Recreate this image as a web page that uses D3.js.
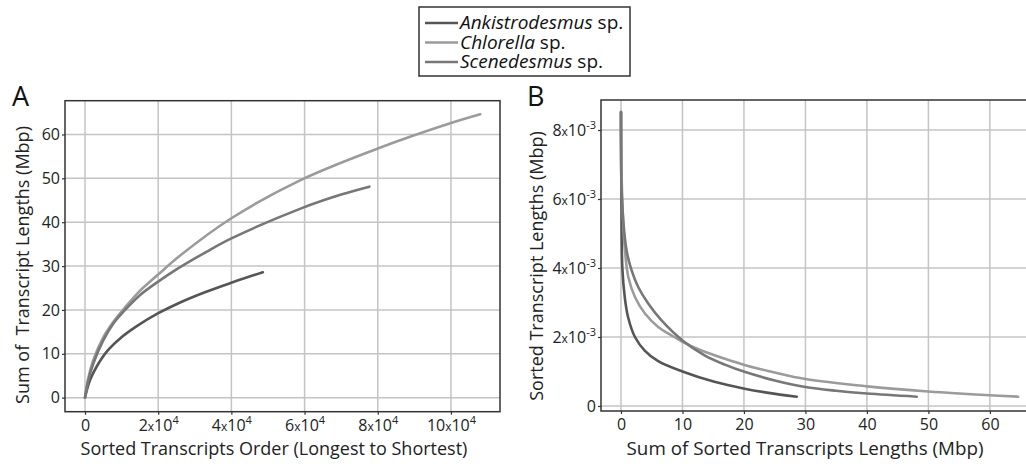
<!DOCTYPE html>
<html>
<head>
<meta charset="utf-8">
<script src="https://cdn.jsdelivr.net/npm/d3@7"></script>
<style>
  body { margin: 0; background: #fff; }
  svg { display: block; font-family: "Open Sans", sans-serif; }
</style>
</head>
<body>
<div id="chart"></div>
<script>
// species + colours
const species = ["Ankistrodesmus", "Chlorella", "Scenedesmus"];
const speciesColors = ["#555555", "#9b9b9b", "#777777"];

// Panel A: cumulative length (Mbp) vs transcript rank
const ankA_x = [0, 1370, 3200, 5940, 9590, 14150, 19900, 26000, 33300, 40000, 48600];
const ankA_y = [0, 4.0, 7.1, 10.5, 13.5, 16.3, 19.2, 21.7, 24.2, 26.2, 28.6];
const chlA_x = [0, 900, 2280, 5020, 7760, 10960, 15070, 19900, 26000, 40000, 58900, 80000, 100000, 108000];
const chlA_y = [0, 4.4, 8.6, 13.8, 17.3, 20.6, 24.4, 28.0, 32.4, 40.9, 49.6, 56.8, 62.6, 64.6];
const sceA_x = [0, 900, 2280, 5020, 7760, 10960, 15070, 19900, 25100, 33300, 40000, 58900, 70000, 77700];
const sceA_y = [0, 4.0, 7.8, 13.1, 16.9, 20.0, 23.4, 26.4, 29.3, 33.3, 36.3, 43.1, 46.3, 48.1];

// Panel B: transcript length (x10^-3 Mbp) vs cumulative length (Mbp)
const ankB_x = [0, 0.08, 0.22, 0.65, 1.19, 2.27, 3.9, 6.05, 10, 15.2, 20.1, 24, 28.6];
const ankB_y = [8.52, 6.0, 4.0, 3.1, 2.55, 2.0, 1.6, 1.3, 1.0, 0.7, 0.5, 0.38, 0.27];
const chlB_x = [0, 0.2, 0.65, 1.19, 2.27, 3.9, 6.05, 8.2, 10, 13.1, 16.9, 20.1, 25, 30, 40, 50, 60, 64.6];
const chlB_y = [8.52, 6.0, 4.5, 3.74, 3.16, 2.68, 2.29, 2.05, 1.86, 1.61, 1.37, 1.19, 0.97, 0.78, 0.57, 0.42, 0.31, 0.27];
const sceB_x = [0, 0.16, 0.92, 1.73, 2.8, 4.43, 6.6, 10, 13.6, 16.9, 20.1, 25, 30, 35, 40, 48.1];
const sceB_y = [8.52, 6.0, 4.5, 3.93, 3.45, 2.97, 2.48, 1.9, 1.47, 1.20, 0.99, 0.74, 0.55, 0.44, 0.36, 0.27];

// ticks
const ticksAx = [0, 20000, 40000, 60000, 80000, 100000];
const ticksAy = [0, 10, 20, 30, 40, 50, 60];
const ticksBx = [0, 10, 20, 30, 40, 50, 60];
const ticksBy = [0, 2e-3, 4e-3, 6e-3, 8e-3];

const width = 1026, height = 466;
const gridColor = "#c4c4c4", boxColor = "#333";

const svg = d3.select("#chart").append("svg")
    .attr("width", width)
    .attr("height", height);

const zip = (xs, ys, k) => xs.map((x, i) => ({x: x, y: ys[i] * (k || 1)}));
const seriesA = [zip(ankA_x, ankA_y), zip(chlA_x, chlA_y), zip(sceA_x, sceA_y)];
const seriesB = [zip(ankB_x, ankB_y, 1e-3), zip(chlB_x, chlB_y, 1e-3), zip(sceB_x, sceB_y, 1e-3)];

// writes "2x10^4" style labels with tspans
function sciLabel(sel, mant, exp) {
    sel.text(null);
    sel.append("tspan").text(mant);
    sel.append("tspan").attr("font-size", "12px").text("x");
    sel.append("tspan").text("10");
    sel.append("tspan").attr("font-size", "11px").attr("dy", "-7").text(exp);
}

function drawPanel(cfg) {
    const x = d3.scaleLinear().domain(cfg.xDomain).range([cfg.left, cfg.right]);
    const y = d3.scaleLinear().domain(cfg.yDomain).range([cfg.bottom, cfg.top]);
    const g = svg.append("g");

    // grid
    g.append("g").selectAll("line").data(cfg.xTicks).enter().append("line")
        .attr("x1", d => x(d)).attr("x2", d => x(d))
        .attr("y1", cfg.top).attr("y2", cfg.bottom)
        .attr("stroke", gridColor).attr("stroke-width", 1.5);
    g.append("g").selectAll("line").data(cfg.yTicks).enter().append("line")
        .attr("x1", cfg.left).attr("x2", cfg.right)
        .attr("y1", d => y(d)).attr("y2", d => y(d))
        .attr("stroke", gridColor).attr("stroke-width", 1.5);

    // curves
    const line = d3.line().x(d => x(d.x)).y(d => y(d.y)).curve(d3.curveCatmullRom.alpha(0.5));
    cfg.series.forEach((s, i) => {
        g.append("path").datum(s)
            .attr("d", line)
            .attr("fill", "none")
            .attr("stroke", speciesColors[i])
            .attr("stroke-width", 2.6)
            .attr("stroke-linecap", "round");
    });

    // frame
    g.append("rect")
        .attr("x", cfg.left).attr("y", cfg.top)
        .attr("width", cfg.right - cfg.left).attr("height", cfg.bottom - cfg.top)
        .attr("fill", "none").attr("stroke", boxColor).attr("stroke-width", 1.5);

    // axes
    const xAxis = g.append("g")
        .attr("transform", `translate(0,${cfg.bottom})`)
        .call(d3.axisBottom(x).tickValues(cfg.xTicks).tickSize(3).tickPadding(5));
    const yAxis = g.append("g")
        .attr("transform", `translate(${cfg.left},0)`)
        .call(d3.axisLeft(y).tickValues(cfg.yTicks).tickSize(3).tickPadding(2));
    [xAxis, yAxis].forEach(a => {
        a.select(".domain").remove();
        a.selectAll(".tick line").attr("stroke", boxColor).attr("stroke-width", 1.2);
        a.selectAll(".tick text").attr("font-size", "16px").attr("fill", "#222")
            .attr("font-family", "Open Sans, sans-serif");
    });
    xAxis.selectAll(".tick text").each(function(d) { cfg.xFmt(d3.select(this), d); });
    yAxis.selectAll(".tick text").each(function(d) { cfg.yFmt(d3.select(this), d); });

    // titles
    g.append("text")
        .attr("x", cfg.xTitleX).attr("y", 455)
        .attr("text-anchor", "middle").attr("font-size", cfg.xTitleSize).attr("fill", "#222")
        .text(cfg.xTitle);
    g.append("text")
        .attr("transform", `translate(${cfg.yTitleX},${cfg.yTitleY}) rotate(-90)`)
        .attr("text-anchor", "middle").attr("font-size", "18px").attr("fill", "#222")
        .style("white-space", "pre")
        .text(cfg.yTitle);
    g.append("text")
        .attr("x", cfg.letterX).attr("y", 106)
        .attr("font-size", "27px").attr("fill", "#111")
        .text(cfg.letter);
}

const plain = (sel, d) => sel.text(d);

drawPanel({
    letter: "A", letterX: 12,
    left: 65, right: 500, top: 100.7, bottom: 411.7,
    xDomain: [-5464, 113400], yDomain: [-3.2, 67.7],
    xTicks: ticksAx, yTicks: ticksAy,
    series: seriesA,
    xFmt: (sel, d) => d === 0 ? sel.text("0") : sciLabel(sel, String(d / 10000), "4"),
    yFmt: plain,
    xTitle: "Sorted Transcripts Order (Longest to Shortest)", xTitleX: 274, xTitleSize: "18px",
    yTitle: "Sum of  Transcript Lengths (Mbp)", yTitleX: 29, yTitleY: 265
});

drawPanel({
    letter: "B", letterX: 527,
    left: 601, right: 1028, top: 100, bottom: 411,
    xDomain: [-3.25, 66.2], yDomain: [-0.000145, 0.00887],
    xTicks: ticksBx, yTicks: ticksBy,
    series: seriesB,
    xFmt: plain,
    yFmt: (sel, d) => d === 0 ? sel.text("0") : sciLabel(sel, String(Math.round(d * 1000)), "-3"),
    xTitle: "Sum of Sorted Transcripts Lengths (Mbp)", xTitleX: 805, xTitleSize: "18.8px",
    yTitle: "Sorted Transcript Lengths (Mbp)", yTitleX: 543, yTitleY: 266
});

// legend
const legend = svg.append("g");
legend.append("rect")
    .attr("x", 419).attr("y", 7).attr("width", 211).attr("height", 69)
    .attr("fill", "#fff").attr("stroke", boxColor).attr("stroke-width", 1.5);
species.forEach((name, k) => {
    const yy = 23 + k * 19.5;
    legend.append("line")
        .attr("x1", 425).attr("x2", 458).attr("y1", yy).attr("y2", yy)
        .attr("stroke", speciesColors[k]).attr("stroke-width", 2.6);
    const t = legend.append("text")
        .attr("x", 460).attr("y", yy + 6)
        .attr("font-size", "19px").attr("fill", "#111");
    t.append("tspan").attr("font-style", "italic").text(name);
    t.append("tspan").text(" sp.");
});
</script>
</body>
</html>
